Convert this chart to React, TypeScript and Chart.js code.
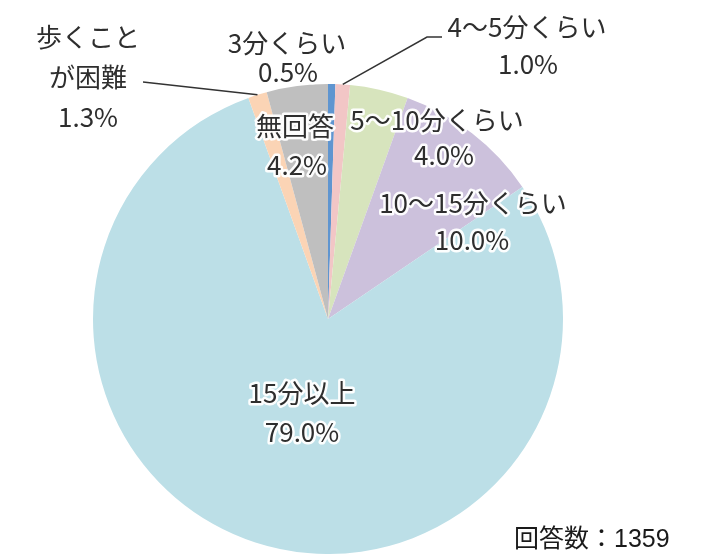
import React, { useEffect, useRef } from "react";
import { Chart, registerables } from "chart.js";

Chart.register(...registerables);

const categories = [
  "3分くらい",
  "4〜5分くらい",
  "5〜10分くらい",
  "10〜15分くらい",
  "15分以上",
  "歩くことが困難",
  "無回答",
];
const values = [0.5, 1.0, 4.0, 10.0, 79.0, 1.3, 4.2];
const labelLines = [
  ["3分くらい"],
  ["4〜5分くらい"],
  ["5〜10分くらい"],
  ["10〜15分くらい"],
  ["15分以上"],
  ["歩くこと", "が困難"],
  ["無回答"],
];
const sliceColors = ["#5f95d0", "#f2c6c6", "#d7e4bd", "#ccc1dc", "#bcdfe7", "#fbd4b5", "#bfbfbf"];
const respondents = "回答数：1359";

// positions of label line centers (text layout only)
const labelPos: number[][][] = [
  [[287, 43], [288, 72]],
  [[527, 27], [528, 64]],
  [[437, 120], [444, 155]],
  [[473, 203], [472, 240]],
  [[302, 393], [302, 432]],
  [[88, 37], [88, 77], [88, 117]],
  [[295, 126], [297, 165]],
];
// leader line bend points (label side), null = no leader
const leaders: (number[][] | null)[] = [
  null,
  [[427, 37], [442, 37]],
  null,
  null,
  null,
  [[143, 82]],
  null,
];

const labelPlugin = {
  id: "pieLabels",
  afterDatasetsDraw(chart: any) {
    const ctx = chart.ctx as CanvasRenderingContext2D;
    const meta = chart.getDatasetMeta(0);
    ctx.save();
    // leader lines
    meta.data.forEach((arc: any, i: number) => {
      const pts = leaders[i];
      if (!pts) return;
      const p = arc.getProps(["x", "y", "startAngle", "endAngle", "outerRadius"], true);
      const mid = (p.startAngle + p.endAngle) / 2;
      const sx = p.x + Math.cos(mid) * p.outerRadius;
      const sy = p.y + Math.sin(mid) * p.outerRadius;
      ctx.beginPath();
      ctx.moveTo(sx, sy);
      pts.forEach((q) => ctx.lineTo(q[0], q[1]));
      ctx.strokeStyle = "#333333";
      ctx.lineWidth = 1.5;
      ctx.stroke();
    });
    // labels
    ctx.font = "26px 'Noto Sans CJK JP', sans-serif";
    ctx.textAlign = "center";
    ctx.textBaseline = "middle";
    ctx.lineJoin = "round";
    categories.forEach((_, i) => {
      const lines = [...labelLines[i], values[i].toFixed(1) + "%"];
      lines.forEach((t, j) => {
        const [x, y] = labelPos[i][j];
        ctx.strokeStyle = "rgba(255,255,255,0.95)";
        ctx.lineWidth = 5;
        ctx.strokeText(t, x, y);
        ctx.fillStyle = "#2e2e2e";
        ctx.fillText(t, x, y);
      });
    });
    ctx.font = "25px 'Liberation Sans', 'Noto Sans CJK JP', sans-serif";
    ctx.textAlign = "left";
    ctx.fillStyle = "#1a1a1a";
    ctx.fillText(respondents, 514, 540);
    ctx.restore();
  },
};

export default function App() {
  const ref = useRef<HTMLCanvasElement>(null);
  useEffect(() => {
    if (!ref.current) return;
    const chart = new Chart(ref.current, {
      type: "pie",
      data: {
        labels: categories,
        datasets: [
          {
            data: values,
            backgroundColor: sliceColors,
            borderWidth: 0,
          },
        ],
      },
      options: {
        animation: false,
        responsive: true,
        maintainAspectRatio: false,
        layout: { padding: { left: 0, right: 51, top: 84, bottom: 0 } },
        plugins: {
          legend: { display: false },
          tooltip: { enabled: false },
        },
      },
      plugins: [labelPlugin],
    });
    return () => chart.destroy();
  }, []);
  return (
    <div style={{ position: "fixed", left: 0, top: 0, width: 707, height: 554, background: "#fff" }}>
      <canvas ref={ref} />
    </div>
  );
}
